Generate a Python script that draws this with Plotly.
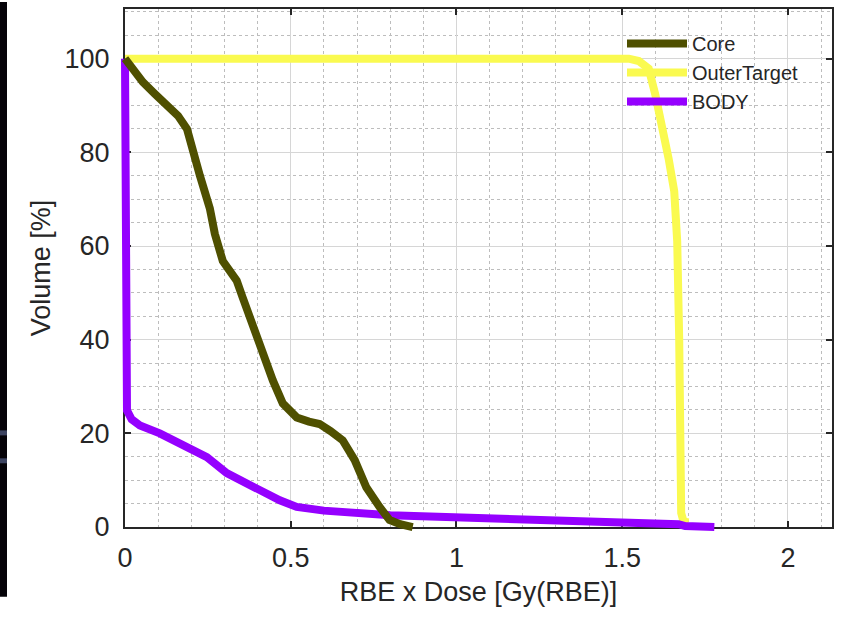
import plotly.graph_objects as go

# ---------------- data ----------------
core_x = [0, 0.02, 0.054, 0.09, 0.127, 0.16, 0.187, 0.205, 0.226, 0.256, 0.271,
          0.295, 0.315, 0.337, 0.355, 0.386, 0.416, 0.446, 0.476, 0.518, 0.555,
          0.587, 0.62, 0.657, 0.693, 0.728, 0.768, 0.798, 0.83, 0.868]
core_y = [100, 98, 95, 92.5, 89.8, 87.8, 85, 80, 75, 68, 62.6,
          56.8, 54.5, 52.6, 49, 42.6, 37.7, 31.3, 26.4, 23.4, 22.5,
          22, 20.5, 18.5, 14.3, 8.5, 4.3, 1.5, 0.6, 0]

outer_x = [0, 0.5, 1.0, 1.52, 1.55, 1.58, 1.60, 1.62, 1.64, 1.657, 1.666,
           1.672, 1.676, 1.678, 1.685, 1.70]
outer_y = [100, 100, 100, 100, 99.5, 97.9, 92.3, 86, 78.7, 71.7, 61,
           40, 20, 3, 1.2, 1.0]

body_x = [0, 0, 0.006, 0.02, 0.045, 0.105, 0.187, 0.247, 0.307, 0.386, 0.467,
          0.518, 0.6, 0.8, 1.0, 1.2, 1.43, 1.55, 1.65, 1.67, 1.69, 1.72, 1.778]
body_y = [100, 27, 24.9, 23, 21.7, 20, 17, 14.9, 11.5, 8.5, 5.7,
          4.3, 3.5, 2.5, 2.1, 1.5, 1.1, 1.0, 0.9, 0.6, 0.2, 0.1, 0]

x_ticks = [0, 0.5, 1, 1.5, 2]
x_ticklabels = ["0", "0.5", "1", "1.5", "2"]
y_ticks = [0, 20, 40, 60, 80, 100]
y_ticklabels = ["0", "20", "40", "60", "80", "100"]

X_MAX = 2.133
Y_MAX = 110.6

# ---------------- styling / layout ----------------
W, H = 841, 617
ML, MR, MT, MB = 115, 9, 7, 80
PW, PH = W - ML - MR, H - MT - MB
PAD_X, PAD_Y = 10, 10  # extra room so thick lines at 0 are not clipped
dx0 = PAD_X / PW
dy0 = PAD_Y / PH

# trace axes share the visible scale but extend a little to the left / below
x2_lo = -X_MAX * dx0 / (1 - dx0)
y2_lo = -Y_MAX * dy0 / (1 - dy0)

FONT = "Liberation Sans, Arial, sans-serif"
TXT = "#262626"
C_CORE = "#4f5000"
C_OUTER = "#fafa50"
C_BODY = "#9500ff"
LW = 8

fig = go.Figure()
# empty trace so that the visible frame / grid axes are drawn
fig.add_trace(go.Scatter(x=[None], y=[None], mode="lines", showlegend=False,
                         hoverinfo="skip", xaxis="x", yaxis="y"))
fig.add_trace(go.Scatter(x=outer_x, y=outer_y, mode="lines", name="OuterTarget",
                         line=dict(color=C_OUTER, width=LW), legendrank=2,
                         xaxis="x2", yaxis="y2"))
fig.add_trace(go.Scatter(x=body_x, y=body_y, mode="lines", name="BODY",
                         line=dict(color=C_BODY, width=LW), legendrank=3,
                         xaxis="x2", yaxis="y2"))
fig.add_trace(go.Scatter(x=core_x, y=core_y, mode="lines", name="Core",
                         line=dict(color=C_CORE, width=LW), legendrank=1,
                         xaxis="x2", yaxis="y2"))


def px_x(p):
    return (p - ML) / PW


def px_y(p):
    return (H - MB - p) / PH


shapes = [
    dict(type="rect", xref="paper", yref="paper", x0=px_x(0), x1=px_x(7),
         y0=px_y(597), y1=px_y(0), fillcolor="#050308", line=dict(width=0),
         layer="above"),
    dict(type="rect", xref="paper", yref="paper", x0=px_x(0), x1=px_x(7),
         y0=px_y(435), y1=px_y(430), fillcolor="#3c4360", line=dict(width=0),
         layer="above"),
    dict(type="rect", xref="paper", yref="paper", x0=px_x(0), x1=px_x(7),
         y0=px_y(463), y1=px_y(458), fillcolor="#3c4360", line=dict(width=0),
         layer="above"),
]

axis_common = dict(
    showline=True, mirror="ticks", linecolor=TXT, linewidth=2,
    ticks="inside", ticklen=6, tickwidth=1.5, tickcolor=TXT,
    showgrid=True, gridcolor="#d6d6d6", gridwidth=1,
    zeroline=False, layer="below traces",
    tickfont=dict(family=FONT, size=27, color=TXT),
)

fig.update_layout(
    width=W, height=H,
    margin=dict(l=ML, r=MR, t=MT, b=MB, pad=0),
    paper_bgcolor="white", plot_bgcolor="rgba(0,0,0,0)",
    showlegend=True,
    legend=dict(x=px_x(622), y=px_y(22), xanchor="left", yanchor="top",
                bgcolor="rgba(0,0,0,0)", borderwidth=0, itemwidth=60,
                font=dict(family=FONT, size=20, color=TXT)),
    xaxis=dict(domain=[dx0, 1], anchor="y", range=[0, X_MAX],
               tickvals=x_ticks, ticktext=x_ticklabels,
               minor=dict(dtick=0.1, showgrid=True, griddash="dot",
                          gridcolor="#bdbdbd", gridwidth=1, ticks=""),
               title=dict(text="RBE x Dose [Gy(RBE)]", standoff=10,
                          font=dict(family=FONT, size=27, color=TXT)),
               ticklabelstandoff=6,
               **axis_common),
    yaxis=dict(domain=[dy0, 1], anchor="x", range=[0, Y_MAX],
               tickvals=y_ticks, ticktext=y_ticklabels,
               minor=dict(dtick=5, showgrid=True, griddash="dot",
                          gridcolor="#bdbdbd", gridwidth=1, ticks=""),
               title=dict(text="Volume [%]", standoff=6,
                          font=dict(family=FONT, size=27, color=TXT)),
               ticklabelstandoff=8,
               **axis_common),
    xaxis2=dict(domain=[0, 1], anchor="y2", range=[x2_lo, X_MAX], visible=False),
    yaxis2=dict(domain=[0, 1], anchor="x2", range=[y2_lo, Y_MAX], visible=False),
    shapes=shapes,
)

fig.write_html("out.html",
               config={"displayModeBar": False},
               post_script="document.body.style.margin='0';")
